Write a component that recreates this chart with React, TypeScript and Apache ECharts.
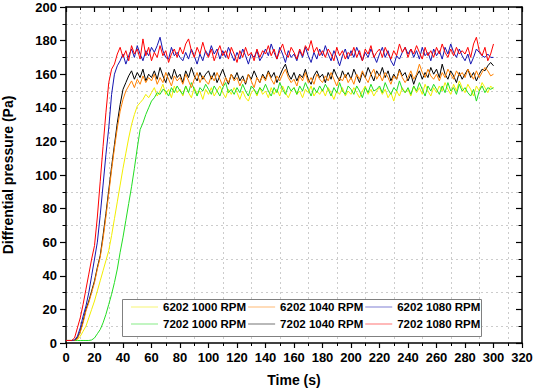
import React, { useEffect, useRef } from "react";
import * as echarts from "echarts";

// time step between samples, seconds
const TIME_STEP = 2;

const SERIES_NAMES = [
  "6202 1000 RPM",
  "6202 1040 RPM",
  "6202 1080 RPM",
  "7202 1000 RPM",
  "7202 1040 RPM",
  "7202 1080 RPM",
];

const yellow6202_1000 = [
  1.5, 1.5, 1.5, 1.5, 2, 4, 7, 10, 15, 20,
  25, 31, 37, 43, 49, 55, 64, 74, 84, 94,
  104, 113, 122, 130, 136, 141, 143, 145, 148, 146,
  149, 152, 147, 150, 154, 148, 151, 146, 153, 149,
  151, 147, 153, 149, 146, 152, 148, 150, 145, 151,
  148, 152, 147, 150, 153, 149, 146, 151, 148, 152,
  149, 145, 150, 146, 144, 149, 151, 147, 152, 148,
  150, 146, 152, 148, 151, 147, 153, 149, 146, 150,
  152, 148, 150, 146, 151, 149, 153, 147, 150, 148,
  151, 147, 152, 149, 145, 150, 148, 152, 147, 150,
  148, 152, 149, 146, 150, 153, 148, 151, 147, 150,
  152, 148, 151, 146, 149, 144, 150, 147, 152, 149,
  151, 147, 153, 149, 152, 148, 154, 150, 147, 152,
  149, 153, 150, 155, 151, 148, 154, 150, 156, 152,
  149, 154, 151, 147, 153, 150, 155, 152, 149, 153,
  151,
];

const green7202_1000 = [
  1.5, 1.5, 1.5, 1.5, 1.5, 1.5, 1.5, 1.5, 1.5, 1.8,
  3, 5.5, 8, 12, 17, 23, 29, 36, 44, 54,
  63, 73, 83, 93, 104, 116, 127, 131, 136, 140,
  144, 146, 149, 148, 151, 150, 147, 152, 149, 153,
  150, 148, 153, 149, 155, 151, 147, 152, 150, 154,
  151, 148, 153, 150, 147, 152, 155, 149, 151, 148,
  152, 149, 154, 150, 147, 153, 151, 148, 152, 150,
  154, 150, 147, 152, 149, 155, 151, 148, 153, 150,
  152, 148, 153, 150, 155, 151, 147, 152, 149, 153,
  150, 154, 151, 147, 152, 149, 155, 150, 148, 153,
  151, 148, 153, 150, 146, 152, 149, 154, 150, 151,
  153, 149, 155, 151, 148, 152, 150, 156, 151, 149,
  152, 148, 153, 150, 155, 151, 147, 153, 150, 154,
  151, 148, 153, 149, 155, 150, 152, 148, 154, 150,
  152, 149, 147, 151, 144, 150, 153, 149, 152, 151,
  152,
];

const orange6202_1040 = [
  1.5, 1.5, 1.5, 1.5, 2.5, 6.5, 12, 19, 24, 30,
  36, 44, 51, 62, 75, 89, 103, 116, 128, 138,
  145, 150, 153, 156, 152, 157, 154, 159, 155, 158,
  156, 160, 154, 158, 155, 161, 157, 153, 159, 156,
  158, 154, 160, 156, 152, 157, 161, 155, 159, 156,
  154, 159, 156, 161, 157, 153, 158, 155, 160, 156,
  158, 153, 157, 155, 160, 156, 152, 158, 155, 159,
  156, 161, 157, 154, 159, 156, 160, 163, 158, 155,
  157, 153, 159, 156, 161, 155, 158, 154, 160, 157,
  155, 159, 156, 161, 157, 153, 158, 156, 160, 155,
  158, 154, 160, 157, 162, 158, 155, 160, 163, 157,
  160, 156, 161, 158, 154, 159, 157, 162, 158, 155,
  158, 162, 157, 160, 166, 161, 158, 163, 159, 157,
  160, 156, 161, 158, 163, 160, 157, 162, 159, 161,
  158, 163, 160, 157, 162, 158, 161, 164, 162, 159,
  160,
];

const black7202_1040 = [
  1.5, 1.5, 1.5, 1.5, 3, 7, 13, 20, 25, 31,
  37, 45, 52, 64, 77, 91, 105, 118, 131, 142,
  151, 155, 159, 162, 157, 161, 158, 163, 156, 160,
  158, 162, 157, 164, 159, 155, 161, 157, 163, 158,
  160, 155, 162, 158, 164, 159, 156, 161, 157, 160,
  162, 157, 161, 155, 159, 163, 158, 154, 160, 157,
  161, 156, 159, 154, 160, 157, 162, 158, 155, 160,
  157, 162, 158, 161, 155, 159, 163, 166, 160, 157,
  161, 156, 160, 158, 163, 157, 154, 159, 162, 158,
  160, 155, 161, 157, 163, 159, 156, 162, 158, 161,
  157, 163, 159, 155, 161, 158, 164, 160, 156, 162,
  159, 164, 158, 162, 156, 160, 157, 163, 159, 161,
  156, 160, 154, 159, 162, 157, 161, 158, 164, 160,
  163, 158, 166, 160, 157, 162, 159, 155, 161, 157,
  160, 163, 158, 161, 156, 160, 163, 162, 165, 167,
  165,
];

const blue6202_1080 = [
  1.5, 1.5, 1.5, 1.8, 4, 9, 16, 22, 30, 40,
  50, 60, 76, 94, 112, 128, 148, 160, 165, 168,
  172, 166, 171, 175, 170, 177, 172, 168, 174, 171,
  176, 173, 177, 182, 174, 170, 169, 176, 171, 173,
  170, 168, 173, 169, 175, 171, 166, 172, 168, 174,
  171, 177, 172, 175, 169, 174, 170, 176, 172, 168,
  173, 169, 175, 171, 166, 172, 170, 174, 168, 171,
  175, 171, 178, 173, 169, 176, 172, 167, 174, 170,
  172, 168, 174, 170, 176, 171, 167, 173, 169, 175,
  171, 177, 172, 168, 174, 170, 165, 171, 175, 169,
  174, 170, 176, 172, 168, 173, 170, 175, 171, 167,
  172, 176, 170, 174, 168, 165, 171, 169, 173, 176,
  172, 175, 170, 174, 169, 176, 171, 173, 168, 175,
  171, 174, 169, 176, 172, 178, 173, 170, 175, 171,
  168, 172, 166, 170, 175, 173, 171, 170, 172, 170,
  170,
];

const red7202_1080 = [
  1.5, 1.5, 1.5, 3, 9, 15, 23, 32, 41, 50,
  58, 75, 96, 117, 137, 155, 163, 166, 172, 176,
  170, 174, 168, 177, 172, 175, 169, 181, 171, 176,
  168, 173, 170, 177, 171, 174, 167, 172, 175, 170,
  176, 172, 178, 181, 174, 170, 176, 172, 179, 173,
  170, 175, 168, 173, 177, 171, 174, 169, 176, 172,
  167, 174, 170, 176, 171, 173, 168, 175, 170, 174,
  172, 177, 171, 175, 169, 174, 178, 172, 170, 176,
  173, 169, 175, 171, 177, 174, 180, 173, 176, 171,
  174, 170, 175, 172, 168, 176, 171, 174, 169, 173,
  171, 176, 170, 174, 168, 175, 172, 177, 170, 173,
  175, 170, 176, 172, 169, 174, 171, 178, 173, 176,
  170, 175, 172, 177, 173, 169, 176, 171, 174, 170,
  176, 172, 178, 173, 170, 175, 171, 176, 172, 174,
  172, 176, 170, 178, 182, 174, 171, 176, 168, 172,
  178,
];

const X_MIN = 0;
const X_MAX = 320;
const X_INTERVAL = 20;
const Y_MIN = 0;
const Y_MAX = 200;
const Y_INTERVAL = 20;

const FONT = '"Liberation Sans", Arial, Helvetica, sans-serif';

const toPoints = (vals: number[]) => vals.map((v, i) => [i * TIME_STEP, v]);

export default function App() {
  const ref = useRef<HTMLDivElement>(null);

  useEffect(() => {
    if (!ref.current) return;
    const chart = echarts.init(ref.current, undefined, { renderer: "svg" });

    const labelStyle = {
      fontSize: 13,
      fontWeight: "bold" as const,
      fontFamily: FONT,
      color: "#000",
    };
    const nameStyle = {
      fontSize: 14,
      fontWeight: "bold" as const,
      fontFamily: FONT,
      color: "#000",
    };
    const axisLine = { show: true, onZero: false, lineStyle: { color: "#000", width: 1.5 } };
    const minorSplit = {
      show: true,
      lineStyle: { color: "#cccccc", type: [2, 3], width: 1 },
    };

    const seriesDefs = [
      { name: SERIES_NAMES[0], data: yellow6202_1000, color: "#f2ee00" },
      { name: SERIES_NAMES[3], data: green7202_1000, color: "#22dd22" },
      { name: SERIES_NAMES[4], data: black7202_1040, color: "#000000" },
      { name: SERIES_NAMES[1], data: orange6202_1040, color: "#ff8000" },
      { name: SERIES_NAMES[2], data: blue6202_1080, color: "#1515b0" },
      { name: SERIES_NAMES[5], data: red7202_1080, color: "#ff0000" },
    ];

    const legendCommon = {
      orient: "horizontal" as const,
      left: 131,
      icon: "rect",
      itemWidth: 27,
      itemHeight: 1,
      itemGap: 2,
      padding: 0,
      selectedMode: false,
      itemStyle: { opacity: 0.55 },
      textStyle: {
        fontSize: 11.5,
        fontWeight: "bold" as const,
        fontFamily: FONT,
        color: "#000",
        lineHeight: 14,
      },
    };

    chart.setOption({
      animation: false,
      backgroundColor: "#ffffff",
      grid: { left: 66, right: 11, top: 7, bottom: 48, containLabel: false, outerBoundsMode: "none" },
      xAxis: [
        {
          type: "value",
          min: X_MIN,
          max: X_MAX,
          interval: X_INTERVAL,
          position: "bottom",
          name: "Time (s)",
          nameLocation: "middle",
          nameGap: 30,
          nameTextStyle: nameStyle,
          axisLine,
          axisTick: { show: true, inside: false, length: 5, lineStyle: { color: "#000", width: 1.2 } },
          minorTick: { show: true, splitNumber: 2, length: 3, lineStyle: { color: "#000", width: 1 } },
          splitLine: { show: false },
          minorSplitLine: minorSplit,
          axisLabel: { ...labelStyle, margin: 8 },
        },
        {
          type: "value",
          min: X_MIN,
          max: X_MAX,
          interval: X_INTERVAL,
          position: "top",
          axisLine,
          axisTick: { show: true, inside: true, length: 5, lineStyle: { color: "#000", width: 1.2 } },
          minorTick: { show: true, splitNumber: 2, length: 3, lineStyle: { color: "#000", width: 1 } },
          splitLine: { show: false },
          minorSplitLine: { show: false },
          axisLabel: { show: false },
        },
      ],
      yAxis: [
        {
          type: "value",
          min: Y_MIN,
          max: Y_MAX,
          interval: Y_INTERVAL,
          position: "left",
          name: "Diffrential pressure (Pa)",
          nameLocation: "middle",
          nameGap: 51,
          nameTextStyle: nameStyle,
          axisLine,
          axisTick: { show: true, inside: false, length: 6, lineStyle: { color: "#000", width: 1.2 } },
          minorTick: { show: true, splitNumber: 2, length: 3.5, lineStyle: { color: "#000", width: 1 } },
          splitLine: { show: false },
          minorSplitLine: minorSplit,
          axisLabel: { ...labelStyle, margin: 9 },
        },
        {
          type: "value",
          min: Y_MIN,
          max: Y_MAX,
          interval: Y_INTERVAL,
          position: "right",
          axisLine,
          axisTick: { show: true, inside: true, length: 6, lineStyle: { color: "#000", width: 1.2 } },
          minorTick: { show: true, splitNumber: 2, length: 3.5, lineStyle: { color: "#000", width: 1 } },
          splitLine: { show: false },
          minorSplitLine: { show: false },
          axisLabel: { show: false },
        },
      ],
      legend: [
        { ...legendCommon, top: 300, data: SERIES_NAMES.slice(0, 3) },
        { ...legendCommon, top: 317, data: SERIES_NAMES.slice(3, 6) },
      ],
      graphic: [
        {
          type: "rect",
          z: 3,
          shape: { x: 122.5, y: 299.5, width: 359, height: 37 },
          style: { fill: "#ffffff", stroke: "#808080", lineWidth: 1 },
        },
      ],
      series: seriesDefs.map((s) => ({
        type: "line",
        name: s.name,
        xAxisIndex: 0,
        yAxisIndex: 0,
        data: toPoints(s.data),
        symbol: "none",
        showSymbol: false,
        color: s.color,
        lineStyle: { width: 1, color: s.color },
        itemStyle: { color: s.color },
      })),
    });

    return () => {
      chart.dispose();
    };
  }, []);

  return (
    <div
      ref={ref}
      style={{ position: "absolute", left: 0, top: 0, width: 533, height: 391 }}
    />
  );
}
